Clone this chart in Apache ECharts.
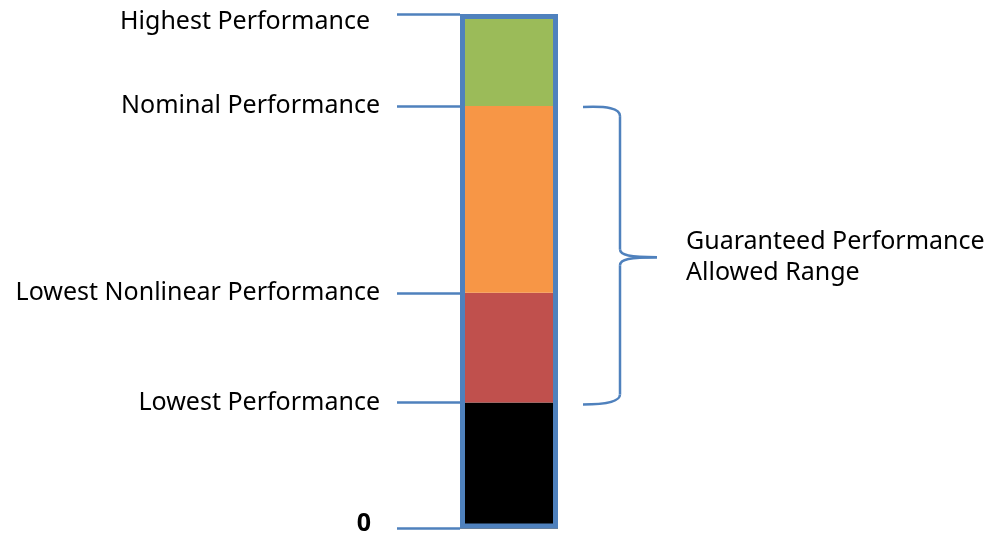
<!DOCTYPE html>
<html>
<head>
<meta charset="utf-8">
<script src="https://cdn.jsdelivr.net/npm/echarts@6/dist/echarts.min.js"></script>
<style>
  html, body { margin: 0; padding: 0; background: #fff; }
  #chart { width: 990px; height: 536px; }
</style>
</head>
<body>
<div id="chart"></div>
<script>
// performance levels (bottom to top), value = height on the bar
const levelNames = ['0', 'Lowest Performance', 'Lowest Nonlinear Performance', 'Nominal Performance', 'Highest Performance'];
const levelValues = [0, 24.5, 45.8, 82.1, 100];
// bar segments between levels
const segmentColors = ['#000000', '#C0504D', '#F79646', '#9BBB59'];
const rangeText = ['Guaranteed Performance', 'Allowed Range'];

const FONT = 'Noto Sans';
const FS = 25;
const BLUE = '#4F81BD';

const chart = echarts.init(document.getElementById('chart'));

const segmentSeries = segmentColors.map((c, i) => ({
  type: 'bar',
  stack: 'perf',
  data: [levelValues[i + 1] - levelValues[i]],
  itemStyle: { color: c },
  barCategoryGap: '0%',
  silent: true
}));

const labelFor = (v) => {
  const i = levelValues.indexOf(v);
  if (i === 0) return '{zero|' + levelNames[i] + '}';
  if (i === levelValues.length - 1) return '{top|' + levelNames[i] + '}';
  return '{n|' + levelNames[i] + '}';
};

chart.setOption({
  animation: false,
  grid: { left: 460, width: 98, top: 14, bottom: 6 },
  xAxis: {
    type: 'category',
    data: ['perf'],
    show: false
  },
  yAxis: {
    type: 'value',
    min: 0,
    max: 100,
    splitLine: { show: false },
    axisLine: { show: false },
    axisTick: {
      show: true,
      length: 63,
      customValues: levelValues,
      lineStyle: { color: BLUE, width: 2.5 }
    },
    axisLabel: {
      customValues: levelValues,
      margin: 80,
      formatter: labelFor,
      rich: {
        n: { fontFamily: FONT, fontSize: FS, color: '#000' },
        top: { fontFamily: FONT, fontSize: FS, color: '#000', padding: [16, 10, 0, 0] },
        zero: { fontFamily: FONT, fontSize: FS, fontWeight: 'bold', color: '#000', padding: [0, 9, 10, 0] }
      }
    }
  },
  series: segmentSeries.concat([{
    type: 'bar',
    data: [levelValues[levelValues.length - 1]],
    barGap: '-100%',
    z: 5,
    silent: true,
    itemStyle: { color: 'transparent', borderColor: BLUE, borderWidth: 5 }
  }])
});

// brace spanning lowest .. nominal performance
const yTop = chart.convertToPixel({ yAxisIndex: 0 }, levelValues[3]);
const yBot = chart.convertToPixel({ yAxisIndex: 0 }, levelValues[1]);
const yMid = (yTop + yBot) / 2 + 3;
const bx0 = 583, bx1 = 620, bx2 = 657;
const braceStyle = { fill: null, stroke: BLUE, lineWidth: 2.5 };
const curve = (x1, y1, cx1, cy1, cx2, cy2, x2, y2) => ({
  type: 'bezierCurve',
  shape: { x1: x1, y1: y1, cpx1: cx1, cpy1: cy1, cpx2: cx2, cpy2: cy2, x2: x2, y2: y2 },
  style: braceStyle
});
const seg = (x1, y1, x2, y2) => ({
  type: 'line',
  shape: { x1: x1, y1: y1, x2: x2, y2: y2 },
  style: braceStyle
});

chart.setOption({
  graphic: [
    curve(bx0, yTop + 1, bx0 + 24, yTop, bx1, yTop + 2, bx1, yTop + 10),
    seg(bx1, yTop + 10, bx1, yMid - 8),
    curve(bx1, yMid - 8, bx1, yMid - 2, bx1 + 10, yMid, bx2, yMid),
    curve(bx2, yMid, bx1 + 10, yMid, bx1, yMid + 2, bx1, yMid + 8),
    seg(bx1, yMid + 8, bx1, yBot - 8),
    curve(bx1, yBot - 8, bx1, yBot - 1, bx0 + 24, yBot + 2, bx0, yBot + 2),
    {
      type: 'text',
      x: 686,
      y: yMid,
      style: {
        text: rangeText.join('\n'),
        fontFamily: FONT,
        fontSize: FS,
        lineHeight: 31,
        fill: '#000',
        align: 'left',
        verticalAlign: 'middle'
      }
    }
  ]
});
</script>
</body>
</html>
